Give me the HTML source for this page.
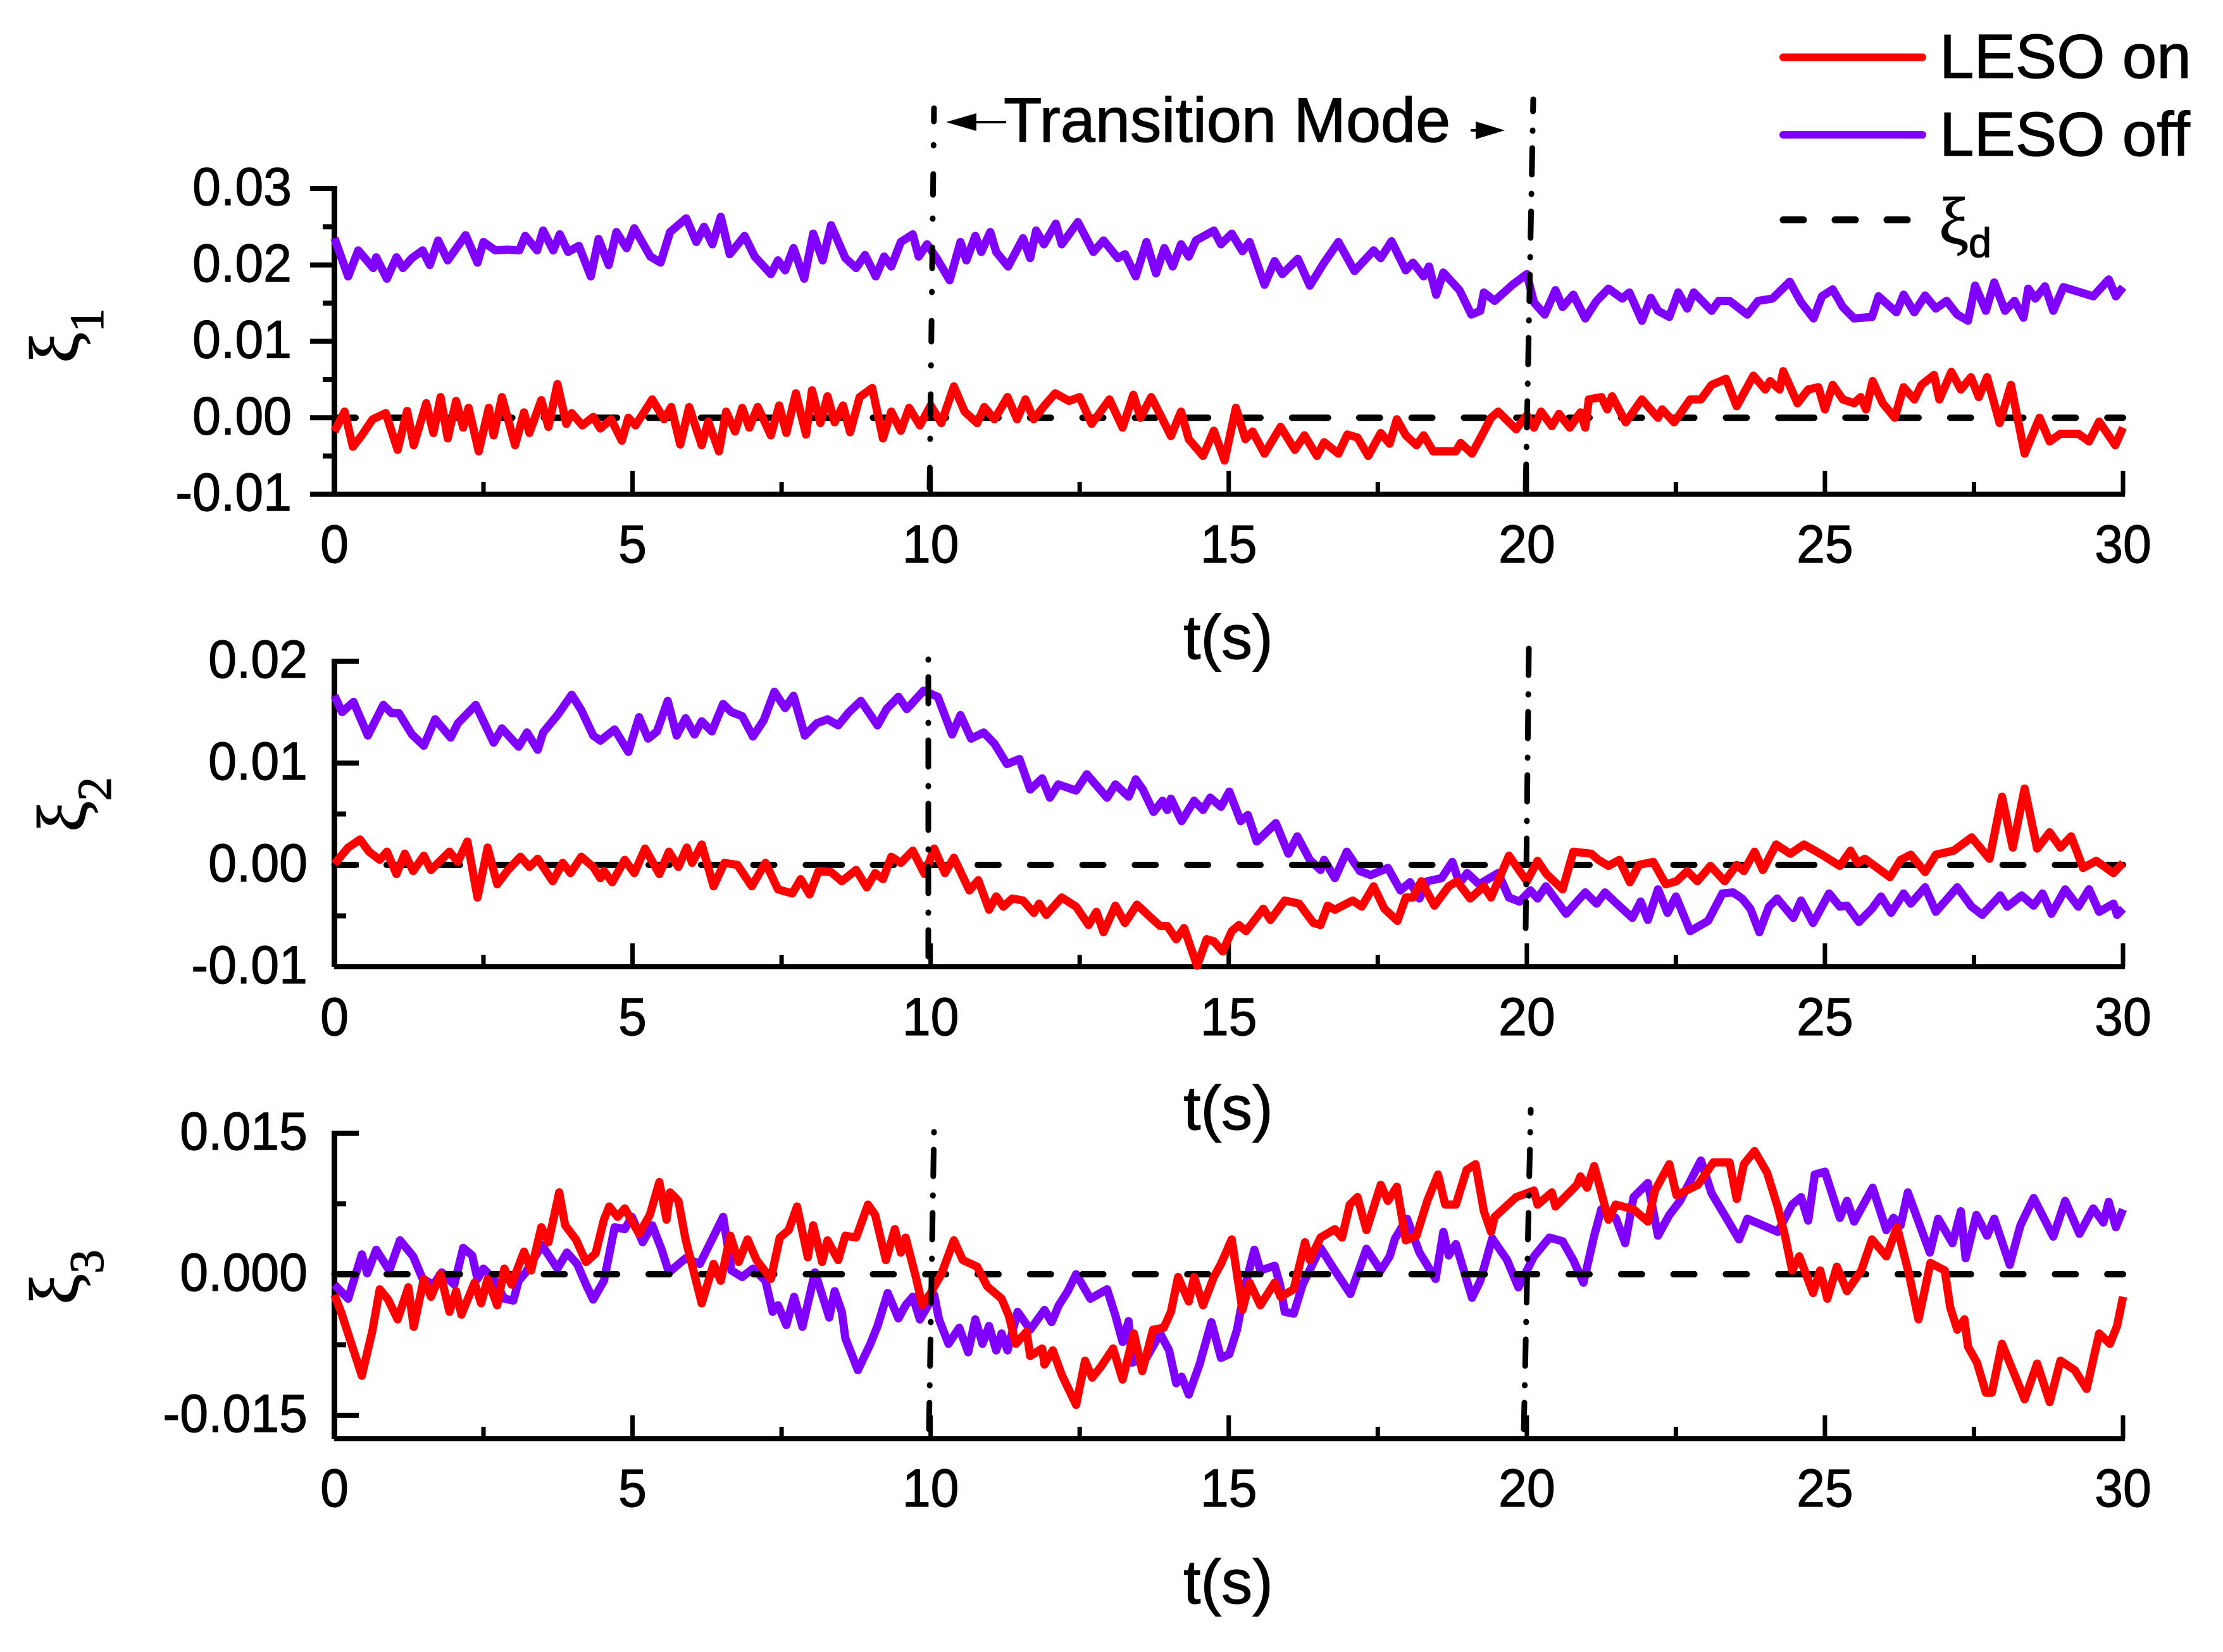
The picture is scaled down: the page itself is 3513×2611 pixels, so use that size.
<!DOCTYPE html>
<html lang="en">
<head>
<meta charset="utf-8">
<title>LESO on/off tracking error chart</title>
<style>
html,body{margin:0;padding:0;background:#fff}
svg{display:block}
text{font-family:"Liberation Sans",Arial,sans-serif;fill:#000;stroke:#000;stroke-width:1.2}
.serif{font-family:"Liberation Serif","DejaVu Serif",serif}
</style>
</head>
<body>
<svg id="chart" xmlns="http://www.w3.org/2000/svg" width="3513" height="2611" viewBox="0 0 3513 2611">
  <rect x="0" y="0" width="3513" height="2611" fill="#ffffff"/>
  <g id="panels"></g>

  <g>
    <text x="1586" y="224" font-size="99">Transition Mode</text>
    <polygon points="1495,193 1543,179 1543,207" fill="#000"/>
    <line x1="1540" y1="193" x2="1590" y2="193" stroke="#000" stroke-width="4"/>
    <polygon points="2378,206 2332,192 2332,220" fill="#000"/>
    <line x1="2324" y1="206" x2="2336" y2="206" stroke="#000" stroke-width="4"/>
  </g>

  <g>
    <line x1="2818" y1="90.5" x2="3038" y2="90.5" stroke="#ff0000" stroke-width="12" stroke-linecap="round"/>
    <text x="3065" y="123" font-size="98">LESO on</text>
    <line x1="2818" y1="213" x2="3038" y2="213" stroke="#8000ff" stroke-width="12" stroke-linecap="round"/>
    <text x="3065" y="246" font-size="98">LESO off</text>
    <line x1="2818" y1="347.5" x2="3016" y2="347.5" stroke="#000" stroke-width="11" stroke-linecap="round" stroke-dasharray="32 50"/>
    <text x="3064" y="385" font-size="106" class="serif">ξ</text>
    <text x="3111" y="406" font-size="65">d</text>
  </g>
</svg>

<script>
// Shared axis values
const xTickValues = [0, 5, 10, 15, 20, 25, 30];
const xTickLabels = ['0', '5', '10', '15', '20', '25', '30'];
const xMinorValues = [2.5, 7.5, 12.5, 17.5, 22.5, 27.5];

// Panel 1 axis values (units of 1e-3)
const y1TickValues = [30, 20, 10, 0, -10];
const y1TickLabels = ['0.03', '0.02', '0.01', '0.00', '-0.01'];
const y1MinorValues = [25, 15, 5, -5];

// Panel 2 axis values (units of 1e-3)
const y2TickValues = [20, 10, 0, -10];
const y2TickLabels = ['0.02', '0.01', '0.00', '-0.01'];
const y2MinorValues = [5, -5];

// Panel 3 axis values (units of 1e-3)
const y3TickValues = [15, 0, -15];
const y3TickLabels = ['0.015', '0.000', '-0.015'];
const y3MinorValues = [7.5, -7.5];

// xi1, LESO off
const xi1OffTime = [0,.23,.4,.65,.7,.88,1.04,1.15,1.3,1.48,1.6,1.74,1.9,2.2,2.4,2.5,2.7,2.9,3.1,3.2,3.4,3.5,3.67,3.78,3.92,4.1,4.3,4.43,4.6,4.73,4.9,5.03,5.3,5.47,5.63,5.9,6.07,6.2,6.34,6.48,6.63,6.88,7.05,7.32,7.44,7.56,7.7,7.88,8.03,8.19,8.33,8.57,8.75,8.9,9.08,9.22,9.34,9.5,9.7,9.8,9.94,10.1,10.32,10.5,10.6,10.75,10.85,11,11.1,11.3,11.55,11.67,11.77,11.9,12.1,12.2,12.47,12.73,12.9,13.14,13.26,13.44,13.62,13.78,13.92,14.06,14.2,14.33,14.45,14.75,14.87,15.05,15.23,15.35,15.6,15.77,15.9,16.16,16.36,16.6,16.84,17.11,17.43,17.55,17.73,17.97,18.09,18.27,18.36,18.48,18.6,18.87,19.07,19.22,19.28,19.46,19.76,20,20.12,20.3,20.48,20.6,20.78,20.98,21.17,21.37,21.6,21.72,21.93,22.08,22.2,22.39,22.54,22.69,22.8,23.1,23.22,23.4,23.7,23.88,24.12,24.41,24.6,24.81,24.95,25.13,25.3,25.49,25.79,25.9,26.2,26.32,26.5,26.68,26.86,27.04,27.22,27.4,27.52,27.7,27.84,28.02,28.18,28.33,28.41,28.53,28.69,28.83,29,29.5,29.76,29.88,30];
const xi1OffValues = [23.5,18.5,21.9,19.6,21,18.2,21,19.6,20.9,21.9,20,23.2,20.6,23.9,20.3,23,21.9,22,21.9,23.8,21.9,24.5,21.9,24,21.7,22.5,18.5,23.4,20,24.3,22.2,24.8,21.1,20.3,24.3,26.1,23,25,22.7,26.3,21.4,23.8,21.1,18.8,20.6,19.3,22.2,18.2,24.1,20.6,25.2,20.9,19.6,21.3,18.5,21.1,19.8,23,24,21.1,22.7,20.9,18,23,20.6,23.8,21.7,24.3,21.7,19.8,23.5,20.9,24.5,22.7,25.4,22.7,25.6,21.7,23.2,20.9,21.4,18.5,23,18.9,22.2,19.8,22.7,21.1,23.2,24.5,22.7,24.1,21.8,23,17.4,20.5,18.8,20.8,17.3,20.3,23,19.2,21.9,20.9,23.1,19.3,20.3,18.5,19.8,16.1,19,16.7,13.5,14,16.4,15.3,17.4,18.8,15.1,13.5,16.7,14.5,16.1,13,15.3,16.9,15.6,16.4,12.7,15.7,14,13.2,16.4,14.3,16.4,14,15.3,15.3,13.5,15.3,15.6,17.8,15.1,13,15.9,16.8,14.5,13,13.2,15.9,13.8,16.1,13.8,16,14.3,15.3,13.5,12.7,17.3,14,17.7,14,15.3,13.1,16.9,15.6,17.2,14,17.1,15.9,18.1,15.9,17.1];

// xi1, LESO on
const xi1OnTime = [0,.17,.31,.46,.64,.86,1.06,1.22,1.33,1.54,1.66,1.78,1.9,2.04,2.16,2.25,2.42,2.59,2.67,2.81,3.03,3.18,3.27,3.47,3.59,3.74,3.89,3.98,4.16,4.34,4.46,4.64,4.82,4.93,5.05,5.33,5.53,5.65,5.8,5.95,6.16,6.27,6.45,6.57,6.72,6.84,6.96,7.1,7.32,7.46,7.58,7.74,7.91,8.01,8.15,8.27,8.39,8.53,8.65,8.81,9.02,9.2,9.34,9.5,9.64,9.82,10,10.18,10.39,10.57,10.78,10.9,11.07,11.29,11.45,11.59,11.73,11.91,12.09,12.32,12.5,12.7,13,13.22,13.4,13.52,13.7,13.89,14.03,14.2,14.33,14.57,14.75,14.93,15.12,15.28,15.4,15.6,15.87,16.11,16.27,16.48,16.6,16.84,16.99,17.16,17.34,17.55,17.7,17.82,17.97,18.15,18.27,18.43,18.81,18.89,19.08,19.28,19.4,19.52,19.82,20,20.12,20.24,20.42,20.54,20.72,20.9,20.98,21.04,21.25,21.35,21.43,21.66,21.93,22.2,22.27,22.47,22.74,22.92,23.1,23.34,23.52,23.8,24,24.08,24.24,24.3,24.54,24.72,24.89,25,25.13,25.3,25.49,25.6,25.69,25.8,25.97,26.17,26.32,26.5,26.62,26.83,26.92,27.12,27.28,27.45,27.58,27.72,27.93,28.12,28.35,28.6,28.77,28.95,29.25,29.43,29.6,29.87,30];
const xi1OnValues = [-1.8,.8,-3.8,-2.3,-.2,.6,-4.2,.9,-3.6,1.9,-2,2.7,-2.7,2.2,-1.3,1.3,-4.4,1.3,-2.3,2.7,-3.6,.7,-2,2.3,-1.2,4.4,-.8,.6,-1,.1,-1.4,-.2,-3,0,-1,2.4,-.2,1.4,-3.5,1.4,-3.6,-.5,-4.4,.8,-1.8,1.3,-1.3,1.4,-2.3,1.6,-2,3.2,-2.2,3.6,-.7,2.8,-.6,1.6,-1.9,2.7,3.9,-2.7,.8,-1.7,1.3,-1,1.6,-.7,4.1,.8,-.7,1.4,-.2,2.7,-.2,2.4,-.2,1.6,3.2,2.2,2.7,-.8,2.4,-1.3,3,0,2.7,-.2,-2.4,.8,-2.8,-5,-1.7,-5.6,1.3,-2.8,-1.8,-4.7,-1.2,-4.2,-2.3,-5,-3.2,-4.7,-2.2,-2.6,-5,-2,-3.4,-.2,-2.3,-3.6,-2.3,-4.4,-4.4,-3.3,-4.7,-1.8,0,.8,-1.5,.3,-1.3,.8,-1.1,.5,-1.3,.7,-1.3,2.4,2.7,1.1,2.8,-.6,2.4,0,1.1,-.6,2.4,2.4,4.3,5.1,1.5,5.5,3.7,4.8,3.7,6.1,1.9,3.7,4,1.1,4.3,2.4,1.9,2.7,1.1,4.8,1.9,0,4,2.4,4.3,5.6,2.4,6,3.7,5.3,2.7,5.3,-.7,4.3,-4.7,0,-3.1,-2.1,-2.1,-3.1,-.5,-3.6,-1.3];

// xi2, LESO off
const xi2OffTime = [0,.13,.32,.56,.82,.96,1.08,1.3,1.5,1.69,1.95,2.07,2.37,2.67,2.81,3.09,3.23,3.41,3.5,3.74,3.98,4.14,4.34,4.46,4.7,4.93,5.11,5.26,5.41,5.59,5.74,5.89,6.04,6.16,6.33,6.52,6.66,6.84,7.02,7.2,7.38,7.56,7.7,7.89,8.09,8.27,8.45,8.63,8.83,9.11,9.26,9.46,9.6,9.88,10.12,10.36,10.5,10.68,10.89,11.07,11.28,11.49,11.67,11.87,12,12.14,12.44,12.62,12.96,13.1,13.32,13.44,13.56,13.74,13.89,13.97,14.03,14.21,14.42,14.57,14.69,14.87,15.01,15.2,15.32,15.47,15.79,16,16.15,16.36,16.54,16.6,16.78,16.98,17.2,17.38,17.67,17.88,18.04,18.2,18.33,18.57,18.75,18.87,19,19.2,19.52,19.7,19.88,20.06,20.18,20.32,20.66,20.84,20.98,21.17,21.31,21.49,21.77,21.91,22.03,22.2,22.36,22.5,22.74,23.04,23.28,23.46,23.61,23.75,23.9,24.06,24.2,24.47,24.6,24.8,25.07,25.25,25.37,25.57,25.79,25.94,26.11,26.32,26.44,26.68,26.86,27.22,27.46,27.64,27.94,28.06,28.3,28.5,28.65,28.8,29.03,29.25,29.43,29.6,29.84,29.9,30];
const xi2OffValues = [16.6,15,16,12.7,15.7,14.9,14.9,12.8,11.7,14.3,12.5,13.9,15.7,12,13.4,11.6,13,11.3,13,14.7,16.7,15.2,12.7,12.2,13.3,11.1,14.5,12.4,13.1,16.1,12.7,14.4,12.8,14.1,13.1,15.8,15,14.6,12.6,14.2,17,15.4,16.6,12.7,13.9,14.3,13.7,15,16.1,13.7,15.3,16.5,15.3,17.1,16.5,12.8,14.7,12.4,13,11.9,9.9,10.4,7.4,8.5,6.6,7.9,7.3,8.9,6.6,7.9,6.7,8.4,7.4,5.2,6.3,5.4,6.5,4.3,6.3,5.4,6.6,5.7,7.2,4.3,4.9,2.3,4.1,1.1,2.8,.5,-.5,.5,-1.3,1.3,-.6,-1,-.3,-2.5,-1.7,-3.3,-1.6,-1.3,.3,-1.8,-.8,-1.9,-.8,-3.2,-3.6,-2.5,-3.3,-2.1,-4.8,-3.6,-2.7,-3.8,-2.7,-3.7,-5.2,-3.6,-5.4,-2.4,-4.7,-3.1,-6.5,-5.5,-2.8,-2.7,-3.3,-4.3,-6.6,-4.1,-3.3,-5.2,-3.5,-5.7,-2.8,-4.1,-4,-5.6,-4.3,-3.1,-4.7,-2.8,-3.8,-2.2,-4.6,-2.2,-4.1,-4.9,-3,-4.1,-3,-4,-2.8,-4.8,-2.4,-4.1,-2.4,-4.6,-3.8,-4.9,-4.3];

// xi2, LESO on
const xi2OnTime = [0,.23,.43,.58,.76,.88,1.04,1.18,1.32,1.5,1.62,1.93,2.07,2.23,2.4,2.57,2.73,2.91,3.12,3.27,3.41,3.66,3.83,3.96,4.14,4.34,4.46,4.52,4.66,4.87,5.03,5.21,5.45,5.61,5.77,5.91,6,6.16,6.36,6.54,6.76,7,7.23,7.44,7.68,7.82,7.97,8.12,8.33,8.51,8.75,8.93,9.07,9.2,9.34,9.5,9.7,9.9,10.06,10.24,10.39,10.65,10.8,10.98,11.1,11.22,11.37,11.55,11.73,11.82,11.94,12.2,12.44,12.65,12.78,12.9,13.1,13.26,13.46,13.68,13.85,13.97,14.12,14.25,14.47,14.63,14.75,14.9,15.05,15.17,15.29,15.58,15.7,15.94,16.18,16.42,16.54,16.66,16.78,17.08,17.23,17.43,17.61,17.83,17.97,18.09,18.23,18.45,18.69,18.83,19.05,19.28,19.4,19.7,20,20.18,20.33,20.6,20.78,21.08,21.2,21.37,21.55,21.73,21.88,22.12,22.33,22.51,22.69,22.86,23.08,23.32,23.52,23.64,23.82,23.96,24.18,24.42,24.65,24.95,25.25,25.43,25.55,25.67,26.09,26.27,26.44,26.68,26.86,27.16,27.46,27.76,27.97,28.15,28.35,28.56,28.77,28.95,29.13,29.33,29.55,29.84,30];
const xi2OnValues = [.1,1.7,2.5,1.3,.5,1.3,-.9,1.1,-.6,.9,-.5,1.3,.3,2.3,-3.2,1.7,-1.9,-.5,.8,-.2,.6,-1.6,.2,-.8,.8,-.2,-1.3,-.6,-1.7,.5,-.8,1.6,-.9,1.3,-.2,1.7,.2,2,-2.1,.2,0,-2.1,.2,-2.4,-2.8,-1.4,-2.9,-.6,-.7,-1.6,-.5,-2.2,-.8,-1.4,.8,.2,1.4,-.9,1.6,-.8,.7,-2.5,-1.5,-4.4,-3.1,-4.1,-3.3,-3.5,-4.7,-3.8,-4.9,-3.2,-4.1,-5.9,-4.6,-6.6,-4,-5.7,-3.9,-5.1,-6,-6,-7.3,-6.2,-9.9,-7.3,-7.5,-8.5,-6.5,-5.9,-6.5,-4.3,-5.4,-3.5,-3.8,-5.7,-5.9,-4,-4.4,-3.5,-4.1,-2.1,-4.3,-5.5,-3.2,-3.2,-1.6,-4,-2.1,-1.6,-3.3,-2.1,-3.2,.9,-1.6,.4,-.9,-2.4,1.3,1.1,.5,-.1,.5,-1.7,0,.3,-1.9,-1.6,-.6,-1.6,-.1,-1.6,0,-.6,1.3,-.5,2,1.1,2,1,-.1,1.4,.2,.6,-1.2,.5,1,-.7,1,1.4,2.7,.6,6.7,1.7,7.5,1.6,3.2,1.7,2.8,-.3,.4,-.8,.2];

// xi3, LESO off
const xi3OffTime = [0,.23,.46,.55,.7,.92,1.1,1.32,1.48,1.66,1.8,2.01,2.16,2.31,2.4,2.5,2.67,2.85,3,3.09,3.21,3.48,3.74,3.9,4.07,4.22,4.34,4.52,4.7,4.87,4.99,5.17,5.33,5.49,5.61,5.89,6.13,6.31,6.52,6.66,6.84,7.02,7.23,7.35,7.44,7.58,7.71,7.85,8.06,8.3,8.39,8.51,8.57,8.78,8.99,9.11,9.28,9.46,9.58,9.7,9.82,10.06,10.14,10.3,10.48,10.63,10.75,10.87,10.98,11.1,11.19,11.29,11.46,11.67,11.91,12.03,12.15,12.3,12.44,12.68,12.96,13.1,13.22,13.32,13.38,13.62,13.85,14,14.12,14.21,14.33,14.51,14.71,14.87,15.01,15.14,15.28,15.43,15.53,15.77,15.86,15.94,16.09,16.24,16.54,16.78,17.04,17.31,17.55,17.7,17.79,17.99,18.2,18.47,18.6,18.69,18.81,19.08,19.22,19.42,19.67,19.86,20.12,20.38,20.6,20.78,20.95,21.13,21.25,21.49,21.65,21.79,22.03,22.2,22.39,22.57,22.92,23.1,23.56,23.7,24.21,24.45,24.6,24.72,24.83,25,25.25,25.37,25.49,25.8,26.03,26.15,26.27,26.39,26.76,26.9,27.14,27.28,27.36,27.54,27.72,27.84,28.1,28.28,28.5,28.83,29.03,29.27,29.5,29.67,29.76,29.88,30];
const xi3OffValues = [-1.1,-2.6,2.1,.1,2.6,.4,3.6,1.9,-.5,-1.1,.2,-1.1,2.8,2,-.5,.6,-.5,-2.6,-2.8,-.7,.2,3.1,.6,2.3,1.1,-1.1,-2.7,-.7,5,4.8,6.1,3.4,5.2,2.6,.2,1.7,1.1,3.4,6.1,.4,-.3,.6,-.7,-4,-3.3,-5.4,-2.4,-5.6,.2,-4.6,-1.8,-4,-6.8,-10.2,-7.4,-5.5,-2,-4.7,-3.3,-2.4,-4.8,-2.2,-4.8,-7.4,-5.7,-8.3,-4.8,-7.4,-5.5,-8.1,-6.3,-8.1,-4,-5.9,-3.8,-5.1,-3.3,-1.8,0,-2.6,-1.6,-4.4,-7.2,-5,-9.4,-8.9,-6.3,-8.1,-11.6,-10.9,-12.8,-9.6,-5.1,-8.9,-8.5,-5.9,-1.1,2.6,.4,.9,-1.1,-4,-4.2,-1.1,2.8,.4,-2.1,2.7,.4,1.9,3.8,5.9,2.3,-.5,4.5,2,3.2,-2.5,-.7,3.8,1.5,-1.4,1.9,3.9,3.5,1.5,-.9,4.1,6.9,6,3.3,8.2,9.7,4.1,6.3,7.8,12.1,8.6,3.7,5.9,4.5,7.4,8.2,5.7,10.6,10.9,6,7.8,5.6,9.2,4.7,6,5.2,8.7,2.3,5.9,3.3,6.7,1.7,6.3,4.1,5.9,1,5.2,8.1,4,7.8,4.3,7,5.5,7.7,5,6.9];

// xi3, LESO on
const xi3OnTime = [0,.11,.46,.64,.76,.9,1.06,1.24,1.33,1.5,1.62,1.78,1.93,2.04,2.13,2.35,2.46,2.57,2.73,2.85,2.97,3.18,3.3,3.47,3.59,3.77,3.87,4.05,4.22,4.38,4.52,4.61,4.75,4.87,5.11,5.29,5.45,5.57,5.63,5.77,5.89,6.16,6.36,6.48,6.64,6.78,6.93,7.08,7.32,7.47,7.62,7.76,7.94,8.03,8.18,8.27,8.45,8.57,8.75,8.95,9.07,9.25,9.4,9.5,9.58,9.76,9.86,10,10.18,10.39,10.54,10.78,10.95,11.19,11.31,11.43,11.61,11.67,11.87,11.91,12.05,12.2,12.44,12.59,12.71,12.86,13.06,13.22,13.41,13.55,13.73,13.91,14.03,14.15,14.33,14.42,14.57,14.75,14.87,15.05,15.23,15.35,15.53,15.77,15.87,16.09,16.28,16.36,16.54,16.78,16.9,17.03,17.16,17.31,17.55,17.67,17.82,17.97,18.15,18.33,18.51,18.63,18.81,18.99,19.14,19.28,19.4,19.46,19.82,20.12,20.18,20.42,20.48,20.84,20.9,21.01,21.13,21.37,21.49,21.79,22.03,22.15,22.39,22.51,22.87,23.13,23.4,23.52,23.64,23.82,24.03,24.21,24.33,24.45,24.57,24.8,24.92,25.04,25.2,25.37,25.61,25.79,26.03,26.21,26.41,26.57,26.77,27.01,27.1,27.22,27.34,27.4,27.55,27.7,27.8,27.97,28.35,28.56,28.77,28.95,29.19,29.39,29.6,29.78,29.9,30];
const xi3OnValues = [-2.2,-4,-10.8,-5.9,-1.6,-2.7,-4.8,-1.4,-5.6,-.5,-2.4,0,-4,-1.8,-4.3,-.9,-3.1,-.5,-3.3,.6,-1.1,2.4,.4,5,3.4,8.7,5.2,3.7,1.3,2.2,5.8,7.2,6.1,7,4.3,6.3,9.8,5.8,8.7,7.8,3.7,-3.1,1.1,-.7,4.1,1.3,3.7,1.5,-.5,3.9,4.7,7.2,1.8,5.2,1.3,3.6,1.5,4.1,3.9,7.4,6.3,1.5,4.8,2.3,3.9,-.5,-3.3,-2,0,3.6,1.5,.8,-1.3,-2.6,-4.4,-7.4,-6.1,-8.7,-7.9,-9.6,-8.1,-10.7,-13.9,-9.2,-11,-9.8,-7.9,-11.2,-6.3,-10.3,-5.9,-5.7,-4,-.3,-2.9,-.3,-3.3,-.3,1.1,3.7,-3.8,-.9,-3.3,-.9,-2.4,-1.6,3.4,1.5,3.9,4.8,3.9,7.4,8.2,4.7,9.5,7.8,9.3,3.6,4.1,7.8,10.6,7.4,7.4,11.1,11.7,6.7,4.5,6.1,8.2,8.9,7.4,8.7,7.2,9.5,10.4,9.2,11.5,5.8,7.4,6.9,5.6,8.9,11.7,8.4,9.5,11.9,11.9,8,11.7,13.1,10.8,7.1,4.1,.4,1.9,-2,.4,-2.6,.8,-1.8,.4,3.7,1.9,5,0,-4.8,1.2,.4,-3.5,-5.9,-4.8,-7.7,-9.4,-12.6,-12.6,-7.4,-13.3,-9.5,-13.6,-9.2,-10.2,-12.2,-6.3,-7.4,-5.5,-2.4];

const SVG_NS = 'http://www.w3.org/2000/svg';
const panelsRoot = document.getElementById('panels');

function make(tag, attrs, parent) {
  const node = document.createElementNS(SVG_NS, tag);
  for (const key in attrs) node.setAttribute(key, attrs[key]);
  parent.appendChild(node);
  return node;
}

const X_LEFT = 528.5;
const X_RIGHT = 3355;
const X_MAX = 30;
function xScale(t) {
  return X_LEFT + (t / X_MAX) * (X_RIGHT - X_LEFT);
}

function makeYScale(top, bottom, yMax, yMin) {
  return function (v) {
    return top + (yMax - v) / (yMax - yMin) * (bottom - top);
  };
}

function drawSeries(group, times, values, y, color, name) {
  let d = '';
  for (let i = 0; i < values.length; i++) {
    d += (i ? 'L' : 'M') + xScale(times[i]).toFixed(1) + ' ' + y(values[i]).toFixed(1);
  }
  const path = make('path', { d: d, fill: 'none', stroke: color, 'stroke-width': 13, 'stroke-linejoin': 'round', 'stroke-linecap': 'butt' }, group);
  
  
}

function drawZeroLine(group, y, name) {
  const line = make('line', {
    x1: xScale(0), y1: y(0), x2: xScale(X_MAX), y2: y(0),
    stroke: '#000', 'stroke-width': 10, 'stroke-linecap': 'round',
    'stroke-dasharray': '57 49 33 49.8 33 49.8 33 49.8 33 49.8 33 49.8 33 49.8 33 49.8 33 49.8',
    'stroke-dashoffset': 23.5
  }, group);
  
  
}

function drawModeLine(group, x1, y1, x2, y2, pattern, period, dashStart, name) {
  const offset = (((y1 - dashStart) % period) + period) % period;
  const line = make('line', {
    x1: x1, y1: y1, x2: x2, y2: y2, stroke: '#000', 'stroke-width': 9,
    'stroke-linecap': 'round', 'stroke-dasharray': pattern, 'stroke-dashoffset': offset
  }, group);
  
  
}

function drawAxes(group, o) {
  const y = o.y;
  const yAxis = make('line', { x1: X_LEFT, y1: o.top - 4, x2: X_LEFT, y2: o.bottom, stroke: '#000', 'stroke-width': 9 }, group);
  
  

  const xAxis = make('line', { x1: o.xAxisStart, y1: o.bottom, x2: xScale(X_MAX) + 3, y2: o.bottom, stroke: '#000', 'stroke-width': 8 }, group);
  
  

  xTickValues.forEach(function (v, i) {
    const tick = make('line', { x1: xScale(v), y1: o.bottom, x2: xScale(v), y2: o.bottom - 37, stroke: '#000', 'stroke-width': 7 }, group);
    
    
    const label = make('text', { transform: 'translate(' + xScale(v) + ',' + o.xLabelY + ') scale(.96,1)', 'font-size': 84, 'text-anchor': 'middle' }, group);
    label.textContent = xTickLabels[i];
    
    
  });
  xMinorValues.forEach(function (v) {
    const tick = make('line', { x1: xScale(v), y1: o.bottom, x2: xScale(v), y2: o.bottom - 19, stroke: '#000', 'stroke-width': 7 }, group);
    
    
  });

  o.yTicks.forEach(function (v, i) {
    const tick = make('line', { x1: o.tickMajorEnd, y1: y(v), x2: X_LEFT, y2: y(v), stroke: '#000', 'stroke-width': 8 }, group);
    
    
    const label = make('text', { transform: 'translate(' + o.yLabelX + ',' + (y(v) + 26) + ') scale(.96,1)', 'font-size': 84, 'text-anchor': 'end' }, group);
    label.textContent = o.yLabels[i];
    
    
  });
  o.yMinor.forEach(function (v) {
    const tick = make('line', { x1: o.tickMinorEnd, y1: y(v), x2: X_LEFT, y2: y(v), stroke: '#000', 'stroke-width': 8 }, group);
    
    
  });

  const xTitle = make('text', { x: 1941, y: o.xTitleY, 'font-size': 98, 'text-anchor': 'middle' }, group);
  xTitle.textContent = 't(s)';
  
  

  const yTitle = make('text', { transform: 'translate(' + o.yTitleX + ',' + o.yTitleY + ') rotate(-90)', 'font-size': 110, class: 'serif' }, group);
  
  
  yTitle.appendChild(document.createTextNode('ξ'));
  const sub = make('tspan', { dy: 40, 'font-size': 76 }, yTitle);
  sub.textContent = o.subscript;
}

const STD_DASH = '42 30 1 27';

// Panel 1
const g1 = make('g', {}, panelsRoot);


const y1 = makeYScale(298, 781, 30, -10);
drawAxes(g1, { id: 'xi1', y: y1, top: 298, bottom: 781, xAxisStart: 490, tickMajorEnd: 490, tickMinorEnd: 510, yLabelX: 461, xLabelY: 889, xTitleY: 1041, yTitleX: 123, yTitleY: 574, subscript: '1', yTicks: y1TickValues, yLabels: y1TickLabels, yMinor: y1MinorValues });
drawSeries(g1, xi1OffTime, xi1OffValues, y1, '#8000ff', 'series-xi1-leso-off');
drawZeroLine(g1, y1, 'desired-line-xi1');
drawSeries(g1, xi1OnTime, xi1OnValues, y1, '#ff0000', 'series-xi1-leso-on');
drawModeLine(g1, 1476, 171, 1469, 776, '33 37 1 45', 116, 275, 'mode-line-xi1-t10');
drawModeLine(g1, 2423, 157, 2411, 774, STD_DASH, 100, 234, 'mode-line-xi1-t20');

// Panel 2
const g2 = make('g', {}, panelsRoot);


const y2 = makeYScale(1045, 1528, 20, -10);
drawAxes(g2, { id: 'xi2', y: y2, top: 1045, bottom: 1528, xAxisStart: 528, tickMajorEnd: 567, tickMinorEnd: 547, yLabelX: 486, xLabelY: 1636, xTitleY: 1785, yTitleX: 135, yTitleY: 1315, subscript: '2', yTicks: y2TickValues, yLabels: y2TickLabels, yMinor: y2MinorValues });
drawSeries(g2, xi2OffTime, xi2OffValues, y2, '#8000ff', 'series-xi2-leso-off');
drawZeroLine(g2, y2, 'desired-line-xi2');
drawSeries(g2, xi2OnTime, xi2OnValues, y2, '#ff0000', 'series-xi2-leso-on');
drawModeLine(g2, 1467, 1038, 1467, 1516, STD_DASH, 100, 1070, 'mode-line-xi2-t10');
drawModeLine(g2, 2416, 1025, 2411, 1470, STD_DASH, 100, 1025, 'mode-line-xi2-t20');

// Panel 3
const g3 = make('g', {}, panelsRoot);


const y3 = makeYScale(1791, 2274, 15, -17.5);
drawAxes(g3, { id: 'xi3', y: y3, top: 1791, bottom: 2274, xAxisStart: 528, tickMajorEnd: 567, tickMinorEnd: 547, yLabelX: 486, xLabelY: 2381, xTitleY: 2534, yTitleX: 123, yTitleY: 2062, subscript: '3', yTicks: y3TickValues, yLabels: y3TickLabels, yMinor: y3MinorValues });
drawSeries(g3, xi3OffTime, xi3OffValues, y3, '#8000ff', 'series-xi3-leso-off');
drawZeroLine(g3, y3, 'desired-line-xi3');
drawSeries(g3, xi3OnTime, xi3OnValues, y3, '#ff0000', 'series-xi3-leso-on');
drawModeLine(g3, 1476, 1788, 1468, 2262, STD_DASH, 100, 1817, 'mode-line-xi3-t10');
drawModeLine(g3, 2419, 1754, 2408, 2262, STD_DASH, 100, 1817, 'mode-line-xi3-t20');
</script>
</body>
</html>
